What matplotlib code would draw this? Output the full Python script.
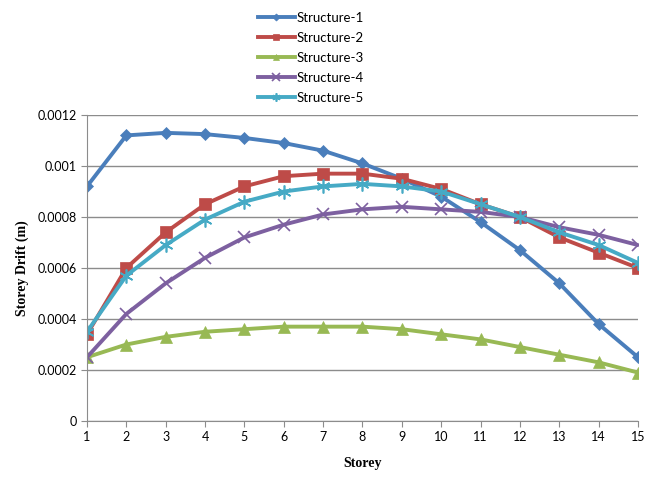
import matplotlib.pyplot as plt

storey = list(range(1, 16))

structure1 = [0.00092, 0.00112, 0.00113, 0.001125, 0.00111, 0.00109, 0.00106, 0.00101,
              0.00095, 0.00088, 0.00078, 0.00067, 0.00054, 0.00038, 0.00025]
structure2 = [0.00034, 0.00060, 0.00074, 0.00085, 0.00092, 0.00096, 0.00097, 0.00097,
              0.00095, 0.00091, 0.00085, 0.00080, 0.00072, 0.00066, 0.00060]
structure3 = [0.00025, 0.00030, 0.00033, 0.00035, 0.00036, 0.00037, 0.00037, 0.00037,
              0.00036, 0.00034, 0.00032, 0.00029, 0.00026, 0.00023, 0.00019]
structure4 = [0.00025, 0.00042, 0.00054, 0.00064, 0.00072, 0.00077, 0.00081, 0.00083,
              0.00084, 0.00083, 0.00082, 0.00080, 0.00076, 0.00073, 0.00069]
structure5 = [0.00035, 0.00057, 0.00069, 0.00079, 0.00086, 0.00090, 0.00092, 0.00093,
              0.00092, 0.00090, 0.00085, 0.00080, 0.00074, 0.00069, 0.00062]

names = ["Structure-1", "Structure-2", "Structure-3", "Structure-4", "Structure-5"]
colors = ["#4A7EBB", "#BE4B48", "#98B954", "#7D60A0", "#46AAC5"]
markers = ["D", "s", "^", "x", (6, 2, 0)]
msizes = [6, 8, 8, 9, 10]

fig = plt.figure(figsize=(6.6, 4.78), dpi=100)
ax = fig.add_axes([87 / 660, 1 - 421 / 478, (638 - 87) / 660, (421 - 115) / 478])

for name, vals, c, m, ms in zip(names, [structure1, structure2, structure3, structure4, structure5],
                                colors, markers, msizes):
    ax.plot(storey, vals, color=c, marker=m, markersize=ms, linewidth=2.8,
            markeredgewidth=1.2 if m in ("x", (6, 2, 0)) else 0.5, label=name)

ax.set_xlim(1, 15)
ax.set_ylim(0, 0.0012)
ax.set_xticks(storey)
ax.set_yticks([0, 0.0002, 0.0004, 0.0006, 0.0008, 0.001, 0.0012])
ax.set_yticklabels(["0", "0.0002", "0.0004", "0.0006", "0.0008", "0.001", "0.0012"])
ax.grid(axis="y", color="#8c8c8c", linewidth=1)
ax.set_axisbelow(True)
for s in ["top", "right"]:
    ax.spines[s].set_visible(False)
for s in ["left", "bottom"]:
    ax.spines[s].set_color("#8c8c8c")
ax.tick_params(colors="#8c8c8c", labelcolor="black", labelsize=9, length=4)
for lbl in ax.get_xticklabels() + ax.get_yticklabels():
    lbl.set_family("Lato")

ax.set_xlabel("Storey", family="Liberation Serif", fontweight="bold", fontsize=10, labelpad=10)
ax.set_ylabel("Storey Drift (m)", family="Liberation Serif", fontweight="bold", fontsize=10, labelpad=6)

leg = fig.legend(loc="upper left", bbox_to_anchor=(246 / 660, 1.0), frameon=False,
                 handlelength=2.8, labelspacing=0.6, handletextpad=0.1, markerscale=0.6,
                 prop={"family": "Lato", "size": 9.5})

fig.savefig("out.png", dpi=100)
